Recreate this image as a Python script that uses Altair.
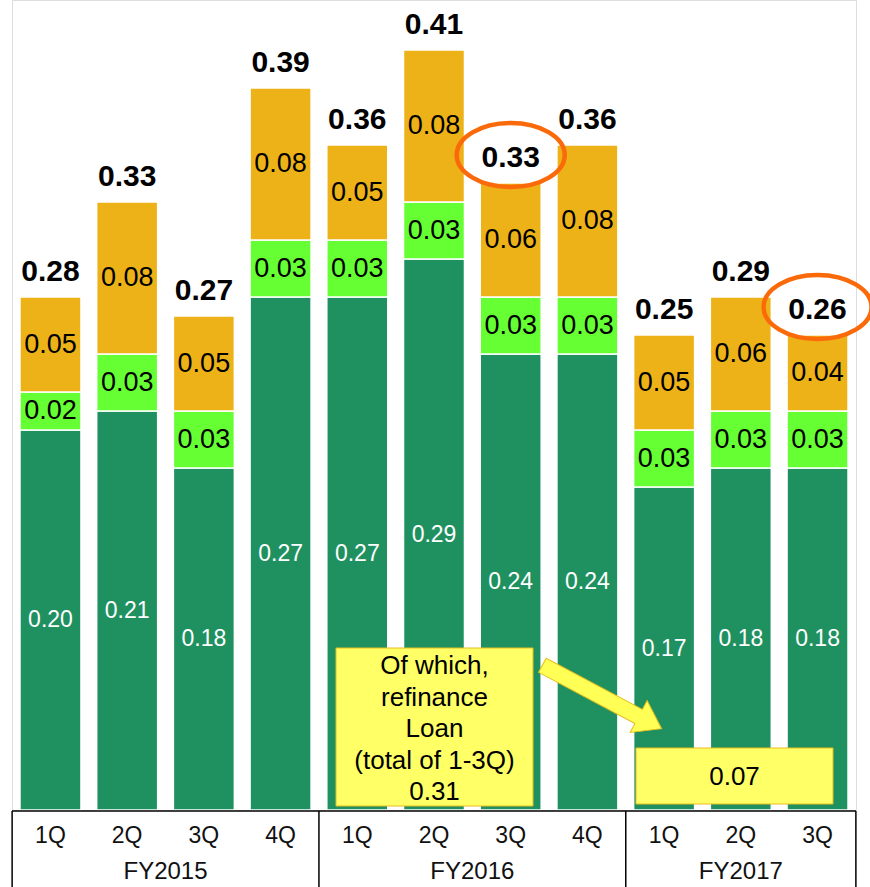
import altair as alt
import pandas as pd

# ---------------- data ----------------
quarters = ["1Q", "2Q", "3Q", "4Q", "1Q", "2Q", "3Q", "4Q", "1Q", "2Q", "3Q"]
years = ["FY2015"] * 4 + ["FY2016"] * 4 + ["FY2017"] * 3
dark_vals = [0.20, 0.21, 0.18, 0.27, 0.27, 0.29, 0.24, 0.24, 0.17, 0.18, 0.18]
light_vals = [0.02, 0.03, 0.03, 0.03, 0.03, 0.03, 0.03, 0.03, 0.03, 0.03, 0.03]
orange_vals = [0.05, 0.08, 0.05, 0.08, 0.05, 0.08, 0.06, 0.08, 0.05, 0.06, 0.04]
total_labels = ["0.28", "0.33", "0.27", "0.39", "0.36", "0.41",
                "0.33", "0.36", "0.25", "0.29", "0.26"]
highlighted = [False, False, False, False, False, False, True, False, False, False, True]
note_fy2016 = "Of which,\nrefinance\nLoan\n(total of 1-3Q)\n0.31"
note_fy2017 = "0.07"

# ---------------- layout / style ----------------
W, H = 844, 810
PX_PER_UNIT = 1900
YMAX = H / PX_PER_UNIT
PAD_IN, PAD_OUT = 0.205, 0.104
STEP = W / (len(quarters) - PAD_IN + 2 * PAD_OUT)
FONT = "Liberation Sans"
DARK, LIGHT, ORANGE = "#1f9160", "#66ff33", "#edb217"
YELLOW, YELLOW_EDGE = "#ffff66", "#e6be1e"
RING = "#fa6a0a"

cats = [f"{y} {q}" for y, q in zip(years, quarters)]

rows = []
for i, c in enumerate(cats):
    segs = [("dark", dark_vals[i], "white", 23),
            ("light", light_vals[i], "black", 27),
            ("orange", orange_vals[i], "black", 27)]
    for k, (seg, v, tc, ts) in enumerate(segs):
        rows.append(dict(cat=c, seg=seg, order=k, value=v,
                         label=f"{v:.2f}", tcolor=tc, tsize=ts))
seg_df = pd.DataFrame(rows)

tot_df = pd.DataFrame({
    "cat": cats,
    "top": [d + l + o for d, l, o in zip(dark_vals, light_vals, orange_vals)],
    "label": total_labels,
    "hl": highlighted,
})
hl_df = tot_df[tot_df["hl"]]

cat_df = pd.DataFrame({"cat": cats, "q": quarters, "fy": years})

xenc = alt.X("cat:N", sort=cats,
             scale=alt.Scale(domain=cats, paddingInner=PAD_IN, paddingOuter=PAD_OUT),
             axis=None)
yscale = alt.Scale(domain=[0, YMAX], nice=False, zero=True)

base = alt.Chart(seg_df).transform_stack(
    stack="value", groupby=["cat"], as_=["y0", "y1"],
    sort=[alt.SortField("order", order="ascending")]
).transform_calculate(mid="(datum.y0 + datum.y1) / 2")

bars = base.mark_bar(stroke="white", strokeWidth=1.5).encode(
    x=xenc,
    y=alt.Y("y0:Q", scale=yscale, axis=None),
    y2="y1:Q",
    color=alt.Color("seg:N", scale=alt.Scale(domain=["dark", "light", "orange"],
                                             range=[DARK, LIGHT, ORANGE]), legend=None),
)

seg_text = base.mark_text(font=FONT, baseline="middle", align="center").encode(
    x=xenc,
    y=alt.Y("mid:Q", scale=yscale, axis=None),
    text="label:N",
    color=alt.Color("tcolor:N", scale=None),
    size=alt.Size("tsize:Q", scale=None),
)

tot_text = alt.Chart(tot_df).mark_text(
    font=FONT, fontSize=30, fontWeight="bold", baseline="alphabetic", dy=-16, color="black"
).encode(x=xenc, y=alt.Y("top:Q", scale=yscale, axis=None), text="label:N")

# table below the bars
q_text = alt.Chart(cat_df).mark_text(font=FONT, fontSize=23, baseline="middle",
                                     color="#111111").encode(
    x=xenc, y=alt.value(835.5), text="q:N")

fy_layers = []
for fy in ["FY2015", "FY2016", "FY2017"]:
    members = [c for c, y in zip(cats, years) if y == fy]
    n = len(members)
    ref = members[(n - 1) // 2]
    shift = STEP / 2 if n % 2 == 0 else 0
    fy_layers.append(
        alt.Chart(pd.DataFrame({"cat": [ref], "fy": [fy]})).mark_text(
            font=FONT, fontSize=24, baseline="middle", color="#111111", dx=shift
        ).encode(x=xenc, y=alt.value(871.5), text="fy:N")
    )

starts = [c for i, c in enumerate(cats) if i == 0 or years[i] != years[i - 1]]
div_rules = alt.Chart(pd.DataFrame({"cat": starts})).mark_rule(
    color="black", strokeWidth=1.5, xOffset=-STEP / 2
).encode(x=xenc, y=alt.value(811), y2=alt.value(887))
end_rule = alt.Chart(pd.DataFrame({"cat": [cats[-1]]})).mark_rule(
    color="black", strokeWidth=1.5, xOffset=STEP / 2
).encode(x=xenc, y=alt.value(811), y2=alt.value(887))
top_rule = alt.Chart(pd.DataFrame({"a": [0]})).mark_rule(
    color="black", strokeWidth=1.5
).encode(x=alt.value(0), x2=alt.value(W), y=alt.value(811))

# annotations
one = pd.DataFrame({"a": [0]})
box1 = alt.Chart(one).mark_rect(fill=YELLOW, stroke=YELLOW_EDGE, strokeWidth=1).encode(
    x=alt.value(324), x2=alt.value(521), y=alt.value(648), y2=alt.value(806))
box1_text = alt.Chart(pd.DataFrame({"t": [note_fy2016]})).mark_text(
    font=FONT, fontSize=26, lineBreak="\n", lineHeight=31.5, baseline="middle",
    align="center", color="black").encode(x=alt.value(422.5), y=alt.value(666), text="t:N")
box2 = alt.Chart(one).mark_rect(fill=YELLOW, stroke=YELLOW_EDGE, strokeWidth=1).encode(
    x=alt.value(624), x2=alt.value(821), y=alt.value(748), y2=alt.value(804))
box2_text = alt.Chart(pd.DataFrame({"t": [note_fy2017]})).mark_text(
    font=FONT, fontSize=26, baseline="middle", align="center", color="black"
).encode(x=alt.value(722.5), y=alt.value(777), text="t:N")

ARROW = ("M -1 -0.1185 L 0.615 -0.1185 L 0.615 -0.267 L 1 0 "
         "L 0.615 0.267 L 0.615 0.1185 L -1 0.1185 Z")
arrow = alt.Chart(one).mark_point(
    shape=ARROW, size=135 ** 2, angle=28, filled=True, fill="#ffff55",
    stroke=YELLOW_EDGE, strokeWidth=1, opacity=1, fillOpacity=1
).encode(x=alt.value(590), y=alt.value(697))

k = 32 / 54
c = 0.5523
ELLIPSE = (f"M 1 0 C 1 {c*k:.4f} {c} {k:.4f} 0 {k:.4f} "
           f"C {-c} {k:.4f} -1 {c*k:.4f} -1 0 "
           f"C -1 {-c*k:.4f} {-c} {-k:.4f} 0 {-k:.4f} "
           f"C {c} {-k:.4f} 1 {-c*k:.4f} 1 0 Z")
rings = alt.Chart(hl_df).mark_point(
    shape=ELLIPSE, size=108 ** 2, filled=False, stroke=RING, strokeWidth=4.5,
    opacity=1, yOffset=-28
).encode(x=xenc, y=alt.Y("top:Q", scale=yscale, axis=None))

chart = alt.layer(
    bars, seg_text, tot_text, q_text, *fy_layers, div_rules, end_rule, top_rule,
    box1, box1_text, box2, box2_text, arrow, rings
).properties(
    width=W, height=H,
    padding={"left": 12, "top": 0, "right": 14, "bottom": 77},
    autosize=alt.AutoSizeParams(type="none"),
    background="white",
).configure_view(stroke=None).configure(font=FONT)

chart.save("out.html", embed_options={"renderer": "svg", "actions": False})
